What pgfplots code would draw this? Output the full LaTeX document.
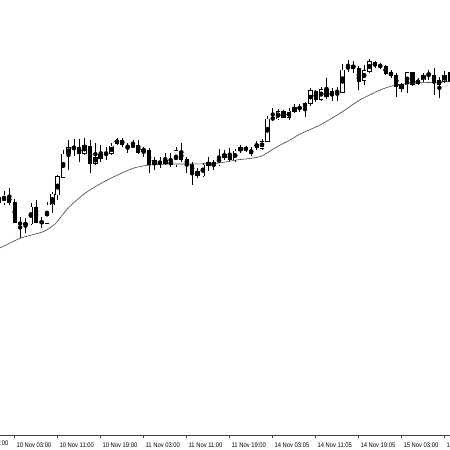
\documentclass[border=0pt]{standalone}
\usepackage{pgfplots}
\pgfplotsset{compat=1.18}
\usepackage{pgfplotstable}
\usepackage{fontspec}
\setmainfont{Liberation Sans}
\newfontfamily\tickfont[FakeStretch=0.87]{Liberation Sans}

% candle data in screen units (smaller = higher price)
% bullish (white) candles
\pgfplotstableread{
i top bot hi lo
-1 197 203 194 205
0 195 203 190.7 205
5 207 224 203.5 225
8 205 223.3 201.7 224
9 194 205 191.7 213
10 176.7 195 175 200
11 154 177.3 150 178
12 147.3 154 140 170
15 145 153.3 138.3 155
17 157.3 163.3 143.3 165
18 154.3 158.3 145 161.7
20 146 153.3 143.3 155
21 140 143.3 138.3 145
26 149 151.7 146.7 156.7
28 160.7 165 156.7 170
30 160.7 163.3 153.3 165
32 150.7 165 146.7 166.7
37 165 176 162.7 176.7
38 162.7 165.3 156.7 170.7
40 156 165 149.3 165.7
41 154.3 157.3 150 160
43 151 160 149.3 161.7
44 147.7 151 145 152.7
48 141.7 148.3 139.3 150
49 119 141.7 116 142
51 111.7 119 109.3 120
53 111 117.7 108.3 120
54 107.7 111.7 104.3 113.3
56 103.3 108.3 101.7 116.7
57 90.7 103.3 88.3 106
59 89.3 99.3 86.7 100.7
61 91.7 95 88.3 100.7
63 70 92.7 64 93
64 65 70 60 71.7
67 70.7 80.7 65 85
68 61.7 71.7 59.3 73.3
74 84.3 88.3 82.7 91.7
75 72.7 85 71.7 93.3
77 80 84 78.3 85
78 75 80 72.7 81.7
82 75 81.7 70.7 83.3
}\bull

% bearish (black) candles and dojis
\pgfplotstableread{
i top bot hi lo
1 196 203 188 205
2 202 223 199 223.5
3 222 225 217 238
4 223.3 224.3 218.3 233
6 207.3 222.5 200 223
7 221 223.3 216.7 228
13 147.7 148.7 139.3 156
14 147.7 153.3 139.3 161.7
16 146 163.3 140 173.3
19 153.5 154.5 146.7 160
22 140 145 138.3 146.7
23 146 147.3 142.7 152.7
24 145.5 146.5 140 147.3
25 145.7 152.7 140 154
27 150 165 148.3 173
29 161 164 157.3 168.3
31 161 165 153.3 166.7
33 151.7 160 142.7 161.7
34 159.3 164 156.7 172.7
35 164 172.7 161.7 185
36 171.7 176 168.3 178.3
39 162.3 165.7 160 170
42 154.3 160 148.3 161
45 147.7 150 146 151.7
46 150 154 146.7 156
47 144 147.3 140.7 150
50 118 119 108.3 120.7
52 111.7 117.3 110 118.3
55 107.5 108.5 104 112
58 91.7 99.3 90 101.7
60 89.3 96.7 78.3 99.3
62 91.2 92.2 86.7 100.7
65 65 68.3 60.7 72.7
66 68.3 81.7 66 90
69 62.7 66 60.7 68.3
70 65.5 66.5 62.7 69.3
71 66.7 73.3 65 75
72 72.3 75.7 70 78.3
73 75 86.7 72.7 97.3
76 72.7 84.3 71.7 86
79 73.8 74.8 70 80
80 75 81.7 68.3 95
81 80 85 77.3 98.3
83 72 81.7 68 83
}\bear

\pgfplotstableread{
x y
-0.74 248
3 238.3
7.3 231.7
9.5 224
11 214
12.5 205
15.4 192
19.2 180
24 168.3
27.2 165
31 164
34.6 164
39.6 163.3
43.3 160
47.6 156.7
50.8 146.7
53.2 140
55.1 134
58.8 125
62.5 113.3
66.2 100
70 90
72.4 85.7
75.5 83.3
79 82.5
83 81.7
}\ma

\pgfplotsset{
  candlebar/.style={only marks, mark=none, forget plot,
    error bars/.cd, y dir=both, y explicit, error mark=none,
    error bar style={#1}},
}

\begin{document}
\begin{tikzpicture}
\begin{axis}[
  at={(0,0)}, anchor=south west,
  width=450bp, height=435bp, scale only axis,
  xmin=-0.7442, xmax=82.977, ymin=15, ymax=450,
  clip=false,
  axis x line=bottom, axis y line=none,
  x axis line style={-, black!75, line width=0.7bp},
  xtick={2,10,...,82},
  xticklabels={10 Nov 03:00,10 Nov 11:00,10 Nov 19:00,11 Nov 03:00,11 Nov 11:00,11 Nov 19:00,14 Nov 03:05,14 Nov 11:05,14 Nov 19:05,15 Nov 03:00,15 Nov 11:00},
  tick align=outside, major tick length=2.5bp,
  tick style={black!75, line width=0.7bp},
  xticklabel style={anchor=base west, inner sep=0pt, xshift=1.7bp, yshift=-10bp,
    font=\tickfont\fontsize{6.7bp}{8bp}\selectfont, text=black},
]
% wicks
\addplot[candlebar={draw=black, line width=0.7bp}]
  table[x=i, y expr={450-(\thisrow{hi}+\thisrow{lo})/2}, y error expr={(\thisrow{lo}-\thisrow{hi})/2}] {\bull};
\addplot[candlebar={draw=black, line width=0.7bp}]
  table[x=i, y expr={450-(\thisrow{hi}+\thisrow{lo})/2}, y error expr={(\thisrow{lo}-\thisrow{hi})/2}] {\bear};
% bearish bodies
\addplot[candlebar={draw=black, line width=4.2bp}]
  table[x=i, y expr={450-(\thisrow{top}+\thisrow{bot})/2}, y error expr={(\thisrow{bot}-\thisrow{top})/2+0.4}] {\bear};
% bullish bodies: outline, then white fill
\addplot[candlebar={draw=black, line width=4.6bp}]
  table[x=i, y expr={450-(\thisrow{top}+\thisrow{bot})/2}, y error expr={(\thisrow{bot}-\thisrow{top})/2+0.35}] {\bull};
\addplot[candlebar={draw=white, line width=3.2bp}]
  table[x=i, y expr={450-(\thisrow{top}+\thisrow{bot})/2}, y error expr={(\thisrow{bot}-\thisrow{top})/2-0.35}] {\bull};
% moving average
\addplot[black!75, line width=0.6bp, smooth, tension=0.4, mark=none] table[x=x, y expr={450-\thisrow{y}}] {\ma};
% partially visible first label
\node[anchor=base west, inner sep=0pt, font=\tickfont\fontsize{6.7bp}{8bp}\selectfont, text=black]
  at (axis cs:-6,15) [xshift=1.7bp, yshift=-10bp] {09 Nov 19:00};
\end{axis}
\pgfresetboundingbox
\useasboundingbox (0,-15bp) rectangle (450bp,435bp);
\end{tikzpicture}
\end{document}
